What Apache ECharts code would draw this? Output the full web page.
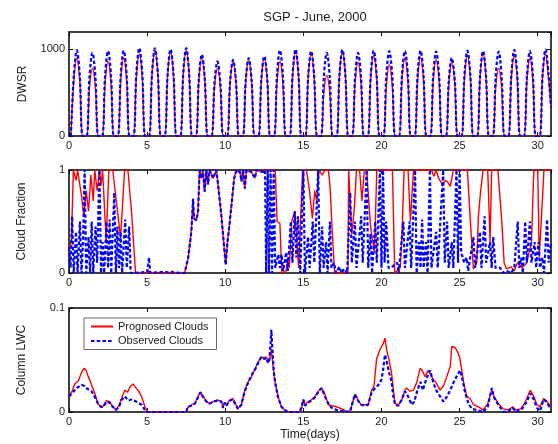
<!DOCTYPE html>
<html>
<head>
<meta charset="utf-8">
<script src="https://cdn.jsdelivr.net/npm/echarts@6/dist/echarts.min.js"></script>
<style>
  html, body { margin: 0; padding: 0; background: #fff; }
  #chart { width: 558px; height: 444px; }
</style>
</head>
<body>
<div id="chart"></div>
<script>
// time axis (days) and tick labels
var xMax = 30.85
var xTicks = [0, 5, 10, 15, 20, 25, 30]

// DWSR: sample times (days), observed and prognosed values (W/m2)
var dwsrT = [
  0.12, 0.31, 0.5, 0.69, 0.88, 1.12, 1.31, 1.5, 1.69, 1.88,
  2.12, 2.31, 2.5, 2.69, 2.88, 3.12, 3.31, 3.5, 3.69, 3.88,
  4.12, 4.31, 4.5, 4.69, 4.88, 5.12, 5.31, 5.5, 5.69, 5.88,
  6.12, 6.31, 6.5, 6.69, 6.88, 7.12, 7.31, 7.5, 7.69, 7.88,
  8.12, 8.31, 8.5, 8.69, 8.88, 9.12, 9.31, 9.5, 9.69, 9.88,
  10.12, 10.31, 10.5, 10.69, 10.88, 11.12, 11.31, 11.5, 11.69, 11.88,
  12.12, 12.31, 12.5, 12.69, 12.88, 13.12, 13.31, 13.5, 13.69, 13.88,
  14.12, 14.31, 14.5, 14.69, 14.88, 15.12, 15.31, 15.5, 15.69, 15.88,
  16.12, 16.31, 16.5, 16.69, 16.88, 17.12, 17.31, 17.5, 17.69, 17.88,
  18.12, 18.31, 18.5, 18.69, 18.88, 19.12, 19.31, 19.5, 19.69, 19.88,
  20.12, 20.31, 20.5, 20.69, 20.88, 21.12, 21.31, 21.5, 21.69, 21.88,
  22.12, 22.31, 22.5, 22.69, 22.88, 23.12, 23.31, 23.5, 23.69, 23.88,
  24.12, 24.31, 24.5, 24.69, 24.88, 25.12, 25.31, 25.5, 25.69, 25.88,
  26.12, 26.31, 26.5, 26.69, 26.88, 27.12, 27.31, 27.5, 27.69, 27.88,
  28.12, 28.31, 28.5, 28.69, 28.88, 29.12, 29.31, 29.5, 29.69, 29.88,
  30.12, 30.31, 30.5, 30.69, 30.85
]
var dwsrObs = [
  0, 700, 990, 700, 0, 0, 680, 960, 680, 0,
  0, 695, 980, 695, 0, 0, 700, 985, 700, 0,
  0, 720, 1015, 720, 0, 0, 715, 1010, 715, 0,
  0, 710, 1000, 710, 0, 0, 720, 1015, 720, 0,
  0, 665, 940, 665, 0, 0, 610, 860, 610, 0,
  0, 625, 880, 625, 0, 0, 640, 900, 640, 0,
  0, 655, 920, 655, 0, 0, 700, 990, 700, 0,
  0, 710, 1000, 710, 0, 0, 695, 980, 695, 0,
  0, 680, 960, 680, 0, 0, 705, 995, 705, 0,
  0, 680, 960, 680, 0, 0, 700, 985, 700, 0,
  0, 695, 980, 695, 0, 0, 695, 980, 695, 0,
  0, 700, 985, 700, 0, 0, 690, 975, 690, 0,
  0, 640, 900, 640, 0, 0, 700, 985, 700, 0,
  0, 695, 980, 695, 0, 0, 690, 975, 690, 0,
  0, 705, 995, 705, 0, 0, 695, 980, 695, 0,
  0, 710, 1000, 710, 330
]
var dwsrProg = [
  0, 640, 900, 640, 0, 0, 555, 780, 555, 0,
  0, 610, 860, 610, 0, 0, 640, 900, 640, 0,
  0, 675, 950, 675, 0, 0, 700, 990, 700, 0,
  0, 690, 970, 690, 0, 0, 700, 990, 700, 0,
  0, 640, 900, 640, 0, 0, 555, 780, 555, 0,
  0, 610, 860, 610, 0, 0, 625, 880, 625, 0,
  0, 640, 900, 640, 0, 0, 610, 860, 610, 0,
  0, 680, 960, 680, 0, 0, 675, 950, 675, 0,
  0, 500, 700, 500, 0, 0, 695, 980, 695, 0,
  0, 605, 850, 605, 0, 0, 660, 930, 660, 0,
  0, 580, 820, 580, 0, 0, 640, 900, 640, 0,
  0, 645, 910, 645, 0, 0, 625, 880, 625, 0,
  0, 610, 860, 610, 0, 0, 660, 930, 660, 0,
  0, 675, 950, 675, 0, 0, 555, 780, 555, 0,
  0, 655, 920, 655, 0, 0, 640, 900, 640, 0,
  0, 675, 950, 675, 330
]

// Cloud fraction: [day, fraction]
var cfProg = [
  [0, 0.25], [0.15, 0.3], [0.28, 1], [0.45, 0.9], [0.55, 1], [0.65, 1], [0.8, 0.75],
  [0.95, 0.55], [1.1, 0.8], [1.25, 0.6], [1.4, 0.95], [1.55, 0.7], [1.65, 1], [1.8, 0.8],
  [1.95, 1], [2.05, 0.85], [2.15, 1], [2.38, 0.3], [2.55, 1], [2.8, 1], [3.3, 0.34],
  [3.56, 1], [3.77, 1], [4.0, 0.6], [4.26, 0], [5.0, 0], [5.1, 0.02], [5.3, 0],
  [6.5, 0], [6.6, 0.02], [6.7, 0], [7.4, 0], [7.62, 0.14], [7.83, 0.4], [7.94, 0.72],
  [8.0, 0.53], [8.15, 0.51], [8.26, 0.6], [8.36, 1], [8.47, 0.92], [8.57, 1], [8.68, 0.79],
  [8.79, 1], [8.9, 0.86], [9.0, 1], [9.22, 0.92], [9.43, 1], [9.54, 0.86], [9.75, 0.56],
  [9.86, 0.37], [9.97, 0.18], [10.03, 0.08], [10.14, 0.3], [10.22, 0.4], [10.4, 0.66],
  [10.57, 0.92], [10.72, 1], [10.94, 0.98], [11.04, 0.89], [11.15, 1], [11.25, 0.82],
  [11.36, 1], [11.68, 0.98], [11.9, 0.92], [12.0, 1], [12.4, 0.98], [12.5, 1], [13.2, 1],
  [13.32, 0.5], [13.5, 0.48], [13.62, 0], [13.9, 0.02], [14.0, 0.15], [14.1, 0.05],
  [14.25, 0.5], [14.45, 0.6], [14.7, 0.05], [14.95, 1], [15.2, 1], [15.4, 0.79],
  [15.5, 0.64], [15.58, 0.53], [15.73, 0.8], [15.85, 0.7], [16.0, 1], [16.2, 0.95],
  [16.4, 1], [16.6, 1], [16.7, 0.86], [16.85, 0.4], [17.0, 0], [17.85, 0], [17.9, 1],
  [18.0, 1], [18.1, 0.38], [18.25, 0.6], [18.4, 1], [18.6, 1], [18.75, 0.7], [18.9, 1],
  [19.05, 1], [19.3, 0.45], [19.55, 0.2], [19.7, 1], [20.7, 1], [20.85, 0], [21.2, 0.05],
  [21.3, 0.34], [21.45, 1], [21.7, 1], [21.85, 0.5], [22.05, 1], [23.2, 1], [23.35, 0.94],
  [23.5, 1], [23.65, 0.92], [23.9, 0.86], [24.1, 0.9], [24.25, 0.88], [24.4, 0.84],
  [24.6, 1], [25.5, 1], [25.65, 0.6], [25.88, 0.04], [26.1, 0.1], [26.2, 0.55],
  [26.35, 0.8], [26.5, 1], [26.8, 1], [26.95, 0.3], [27.05, 1], [27.45, 1], [27.7, 0.5],
  [27.85, 0.1], [28.0, 0.04], [28.3, 0.06], [28.5, 0.02], [28.7, 0.1], [29.0, 0.05],
  [29.3, 0.1], [29.6, 0.3], [29.75, 1], [30.0, 1], [30.1, 0.15], [30.4, 1], [30.85, 1]
]
var cfObs = [
  [0, 0.25], [0.1, 0.05], [0.2, 0.55], [0.3, 0], [0.45, 0.4], [0.55, 0], [0.7, 0.5],
  [0.8, 0], [0.9, 0.3], [1.0, 1], [1.1, 0], [1.25, 0.35], [1.35, 0], [1.45, 0.5],
  [1.55, 0], [1.7, 0.45], [1.8, 0.1], [1.95, 1], [2.05, 0], [2.15, 0.3], [2.25, 0],
  [2.4, 0.5], [2.5, 0.05], [2.6, 0.52], [2.7, 0], [2.9, 0.78], [3.0, 0], [3.1, 0.45],
  [3.2, 0.05], [3.3, 0.4], [3.4, 0], [3.6, 0.52], [3.7, 0.05], [3.85, 0.45], [3.95, 0],
  [4.2, 0], [5.0, 0.01], [5.12, 0.15], [5.2, 0], [6.0, 0.01], [7.4, 0], [7.62, 0.14],
  [7.83, 0.4], [7.94, 0.72], [8.0, 0.53], [8.15, 0.51], [8.26, 0.6], [8.36, 1], [8.47, 0.92],
  [8.57, 1], [8.68, 0.79], [8.79, 1], [8.9, 0.86], [9.0, 1], [9.22, 0.92], [9.43, 1],
  [9.54, 0.86], [9.75, 0.56], [9.86, 0.37], [9.97, 0.18], [10.03, 0.08], [10.14, 0.3],
  [10.22, 0.4], [10.4, 0.66], [10.57, 0.92], [10.72, 1], [10.94, 0.98], [11.04, 0.89],
  [11.15, 1], [11.25, 0.82], [11.36, 1], [11.68, 0.98], [11.9, 0.92], [12.0, 1], [12.4, 0.98],
  [12.55, 1], [12.62, 0], [12.72, 1], [12.8, 0], [12.9, 1], [13.0, 0], [13.1, 1], [13.2, 0.05],
  [13.4, 0.18], [13.5, 0.05], [13.6, 0.18], [13.7, 0.02], [13.9, 0.2], [14.0, 0.02],
  [14.2, 0.5], [14.3, 0.1], [14.45, 0.6], [14.55, 0.15], [14.65, 0.55], [14.8, 0],
  [15.0, 1], [15.1, 0], [15.3, 0.35], [15.4, 0.05], [15.6, 0.5], [15.7, 0.1], [15.95, 1],
  [16.05, 0], [16.2, 0.45], [16.3, 0.05], [16.45, 0.3], [16.55, 0], [16.7, 0.5],
  [16.8, 0.05], [16.95, 0.1], [17.1, 0], [17.3, 0.06], [17.45, 0], [17.6, 0.04], [17.8, 0],
  [18.0, 0.78], [18.1, 0.1], [18.3, 0.5], [18.4, 0.05], [18.7, 0.55], [18.8, 0.1],
  [19.05, 1], [19.15, 0.05], [19.3, 0.38], [19.4, 0], [19.6, 0.5], [19.7, 0.1], [19.9, 1],
  [20.0, 0.05], [20.1, 1], [20.2, 0.1], [20.3, 0.5], [20.45, 0.05], [20.6, 0.05],
  [21.0, 0.1], [21.1, 0], [21.4, 0.5], [21.5, 0.05], [21.8, 0.5], [21.9, 0.05], [22.15, 1],
  [22.25, 0], [22.4, 0.3], [22.5, 0.05], [22.6, 0.52], [22.7, 0.05], [22.85, 0.3],
  [22.95, 0], [23.1, 1], [23.2, 0.05], [23.5, 0.4], [23.6, 0.05], [23.95, 1], [24.05, 0.1],
  [24.2, 0.5], [24.3, 0.05], [24.5, 0.3], [24.6, 0.05], [24.8, 1], [24.9, 0.1], [25.0, 1],
  [25.1, 0.2], [25.3, 0.1], [25.45, 0.15], [25.55, 0.02], [25.88, 0.35], [26.0, 0.05],
  [26.3, 0.4], [26.4, 0.05], [26.6, 0.55], [26.7, 0.1], [26.95, 0.3], [27.05, 0.05],
  [27.15, 0.35], [27.3, 0.05], [27.6, 0.05], [27.8, 0], [28.0, 0.02], [28.3, 0],
  [28.5, 0.05], [28.72, 0.5], [28.82, 0.05], [28.95, 0.15], [29.05, 0], [29.2, 0.5],
  [29.3, 0.1], [29.5, 0.5], [29.6, 0.1], [29.8, 0.3], [29.9, 0.05], [30.05, 0.3],
  [30.15, 0.05], [30.3, 0.15], [30.4, 0], [30.6, 0.52], [30.7, 0.1], [30.85, 0.3]
]

// Column LWC: [day, value]
var lwcProg = [
  [0, 0.015], [0.2, 0.02], [0.37, 0.027], [0.6, 0.03], [0.8, 0.038], [0.97, 0.042],
  [1.1, 0.04], [1.23, 0.034], [1.35, 0.03], [1.44, 0.026], [1.55, 0.022], [1.65, 0.018],
  [1.86, 0.008], [2.05, 0.004], [2.2, 0.006], [2.4, 0.011], [2.6, 0.01], [2.8, 0.005],
  [3.0, 0.002], [3.2, 0.006], [3.36, 0.013], [3.57, 0.021], [3.75, 0.019], [3.9, 0.024],
  [4.1, 0.027], [4.3, 0.023], [4.5, 0.019], [4.64, 0.015], [4.86, 0.005], [5.03, 0],
  [7.5, 0], [7.62, 0.005], [7.83, 0.007], [8.05, 0.008], [8.26, 0.015], [8.41, 0.019],
  [8.6, 0.015], [8.8, 0.01], [9.0, 0.008], [9.22, 0.01], [9.54, 0.0115], [9.75, 0.01],
  [9.86, 0.005], [9.97, 0.009], [10.07, 0.007], [10.29, 0.0115], [10.5, 0.013],
  [10.65, 0.008], [10.82, 0.0035], [11.03, 0.007], [11.25, 0.021], [11.46, 0.029],
  [11.68, 0.034], [11.78, 0.037], [11.95, 0.043], [12.1, 0.048], [12.31, 0.053],
  [12.5, 0.052], [12.63, 0.053], [12.74, 0.048], [12.82, 0.05], [12.95, 0.06],
  [13.06, 0.044], [13.16, 0.031], [13.38, 0.015], [13.6, 0.005], [13.8, 0.002], [14.0, 0],
  [14.78, 0], [14.9, 0.004], [15.0, 0.0115], [15.1, 0.007], [15.31, 0.01], [15.5, 0.0115],
  [15.74, 0.015], [15.95, 0.02], [16.16, 0.023], [16.25, 0.021], [16.38, 0.017],
  [16.6, 0.007], [16.8, 0.006], [17.13, 0.005], [17.45, 0.003], [17.7, 0.001], [17.98, 0],
  [18.3, 0.017], [18.5, 0.0115], [18.7, 0.007], [18.95, 0.007], [19.15, 0.007],
  [19.37, 0.021], [19.52, 0.025], [19.69, 0.051], [19.9, 0.06], [20.12, 0.066],
  [20.22, 0.071], [20.33, 0.06], [20.5, 0.049], [20.65, 0.037], [20.76, 0.021],
  [20.87, 0.008], [21.08, 0.007], [21.3, 0.0115], [21.5, 0.021], [21.6, 0.023],
  [21.83, 0.02], [22.05, 0.021], [22.25, 0.028], [22.47, 0.042], [22.6, 0.04],
  [22.79, 0.034], [23.0, 0.04], [23.1, 0.039], [23.32, 0.031], [23.5, 0.028],
  [23.75, 0.021], [23.97, 0.025], [24.18, 0.034], [24.4, 0.044], [24.5, 0.063],
  [24.71, 0.062], [24.86, 0.058], [25.0, 0.053], [25.14, 0.04], [25.25, 0.029],
  [25.46, 0.015], [25.67, 0.013], [25.89, 0.007], [26.21, 0.005], [26.5, 0.002],
  [26.8, 0.008], [27.06, 0.021], [27.2, 0.015], [27.48, 0.008], [27.8, 0.003],
  [28.12, 0.002], [28.4, 0.005], [28.6, 0.002], [28.9, 0.003], [29.1, 0.007],
  [29.3, 0.013], [29.52, 0.021], [29.75, 0.015], [29.95, 0.007], [30.15, 0.005],
  [30.37, 0.013], [30.55, 0.011], [30.75, 0.007], [30.85, 0.006]
]
var lwcObs = [
  [0, 0.015], [0.2, 0.018], [0.48, 0.023], [0.8, 0.026], [1.0, 0.025], [1.12, 0.023],
  [1.3, 0.021], [1.44, 0.02], [1.6, 0.016], [1.86, 0.008], [2.05, 0.005], [2.2, 0.005],
  [2.4, 0.01], [2.6, 0.009], [2.8, 0.005], [3.0, 0.002], [3.2, 0.005], [3.36, 0.0115],
  [3.57, 0.015], [3.8, 0.011], [4.0, 0.012], [4.3, 0.01], [4.64, 0.007], [4.86, 0.002],
  [5.03, 0], [6.35, 0], [6.45, 0.001], [7.5, 0], [7.62, 0.005], [7.83, 0.006],
  [8.05, 0.008], [8.26, 0.014], [8.41, 0.019], [8.6, 0.014], [8.8, 0.01], [9.0, 0.008],
  [9.22, 0.01], [9.54, 0.011], [9.75, 0.01], [9.86, 0.004], [9.97, 0.009], [10.07, 0.006],
  [10.29, 0.011], [10.5, 0.012], [10.65, 0.007], [10.82, 0.003], [11.03, 0.007],
  [11.25, 0.02], [11.46, 0.028], [11.68, 0.035], [11.78, 0.038], [11.95, 0.042],
  [12.1, 0.047], [12.31, 0.053], [12.5, 0.051], [12.63, 0.052], [12.74, 0.047],
  [12.82, 0.05], [12.9, 0.065], [12.95, 0.079], [13.02, 0.06], [13.1, 0.04], [13.2, 0.028],
  [13.38, 0.014], [13.6, 0.005], [13.8, 0.002], [14.0, 0], [14.78, 0], [14.9, 0.006],
  [15.0, 0.012], [15.1, 0.006], [15.31, 0.009], [15.5, 0.011], [15.74, 0.014],
  [15.95, 0.019], [16.16, 0.023], [16.25, 0.02], [16.38, 0.015], [16.6, 0.008],
  [16.8, 0.004], [17.13, 0.002], [17.45, 0.001], [17.98, 0], [18.3, 0.017], [18.5, 0.011],
  [18.7, 0.007], [18.95, 0.006], [19.15, 0.007], [19.37, 0.019], [19.6, 0.023],
  [19.8, 0.026], [20.0, 0.031], [20.1, 0.04], [20.22, 0.055], [20.33, 0.049],
  [20.5, 0.037], [20.65, 0.029], [20.76, 0.015], [20.87, 0.007], [21.08, 0.006],
  [21.3, 0.012], [21.5, 0.02], [21.7, 0.015], [21.93, 0.007], [22.1, 0.01], [22.3, 0.021],
  [22.5, 0.029], [22.65, 0.021], [22.85, 0.031], [23.11, 0.04], [23.32, 0.028],
  [23.5, 0.021], [23.75, 0.015], [23.97, 0.01], [24.2, 0.015], [24.4, 0.021],
  [24.6, 0.028], [24.8, 0.034], [25.03, 0.04], [25.14, 0.034], [25.35, 0.019],
  [25.57, 0.008], [25.78, 0.003], [26.1, 0.002], [26.5, 0], [26.8, 0.005], [27.06, 0.023],
  [27.2, 0.014], [27.48, 0.007], [27.8, 0], [28.12, 0.001], [28.4, 0.004], [28.6, 0],
  [29.0, 0.003], [29.3, 0.01], [29.52, 0.018], [29.75, 0.012], [29.95, 0.004],
  [30.15, 0.001], [30.37, 0.012], [30.55, 0.01], [30.75, 0.005], [30.85, 0.005]
]

var panelNames = ['DWSR', 'Cloud Fraction', 'Column LWC']
var panelMax = [1200, 1, 0.1]
var panelInterval = [1000, 1, 0.1]
var legendNames = ['Prognosed Clouds', 'Observed Clouds']

var FONT = 'Liberation Sans, Arial, Helvetica, sans-serif'
var RED = '#ff0000'
var BLUE = '#0000ff'

var chart = echarts.init(document.getElementById('chart'))

var grids = [
  { left: 69, right: 7, top: 32, height: 104 },
  { left: 69, right: 7, top: 170, height: 103 },
  { left: 69, right: 7, top: 308, height: 104 }
]

var xAxes = []
var yAxes = []
grids.forEach(function(g, i) {
  var line = { onZero: false, lineStyle: { color: '#000', width: 1.5 } }
  var tick = { inside: true, length: 4, lineStyle: { color: '#000', width: 1 } }
  xAxes.push({
    gridIndex: i, type: 'value', position: 'bottom', min: 0, max: xMax, interval: 5,
    axisLine: line, axisTick: tick, splitLine: { show: false },
    axisLabel: {
      showMaxLabel: false, margin: 4, fontSize: 11, color: '#222', fontFamily: FONT,
      formatter: function(v) { return xTicks.indexOf(v) >= 0 ? String(v) : '' }
    },
    name: i === 2 ? 'Time(days)' : '',
    nameLocation: 'middle', nameGap: 17,
    nameTextStyle: { fontSize: 12, color: '#222', fontFamily: FONT }
  })
  xAxes.push({
    gridIndex: i, type: 'value', position: 'top', min: 0, max: xMax, interval: 5,
    axisLine: line, axisTick: tick, axisLabel: { show: false }, splitLine: { show: false }
  })
  yAxes.push({
    gridIndex: i, type: 'value', position: 'left', min: 0, max: panelMax[i],
    interval: panelInterval[i],
    axisLine: line, axisTick: tick, splitLine: { show: false },
    axisLabel: {
      showMaxLabel: i !== 0, margin: 4, fontSize: 11, color: '#222', fontFamily: FONT,
      formatter: function(v) { return String(v) }
    },
    name: panelNames[i], nameLocation: 'middle', nameGap: i === 0 ? 40 : 41,
    nameTextStyle: { fontSize: 12, color: '#222', fontFamily: FONT }
  })
  yAxes.push({
    gridIndex: i, type: 'value', position: 'right', min: 0, max: panelMax[i],
    interval: panelInterval[i],
    axisLine: line, axisTick: tick, axisLabel: { show: false }, splitLine: { show: false }
  })
})

function redLine(name, i, data) {
  return {
    name: name, type: 'line', xAxisIndex: 2 * i, yAxisIndex: 2 * i, data: data,
    symbol: 'none', showSymbol: false, smooth: i === 0 ? 0.35 : false,
    color: RED, lineStyle: { color: RED, width: 1.4 }, z: 3
  }
}
function blueLine(name, i, data) {
  return {
    name: name, type: 'line', xAxisIndex: 2 * i, yAxisIndex: 2 * i, data: data,
    symbol: 'none', showSymbol: false, smooth: i === 0 ? 0.35 : false,
    color: BLUE, lineStyle: { color: BLUE, width: 2.2, type: [3.5, 2.2] }, z: 4
  }
}

var option = {
  animation: false,
  backgroundColor: '#fff',
  title: {
    text: 'SGP - June, 2000', left: 310, top: 6, textAlign: 'center',
    textStyle: { fontSize: 13, fontWeight: 'normal', color: '#222', fontFamily: FONT }
  },
  legend: {
    data: legendNames, orient: 'vertical', left: 84, top: 318,
    padding: [3, 8, 3, 6], itemGap: 3.5, itemWidth: 22, itemHeight: 10,
    itemStyle: { opacity: 0 },
    backgroundColor: '#fff', borderColor: '#666', borderWidth: 1, selectedMode: false,
    textStyle: { fontSize: 11, color: '#222', fontFamily: FONT }
  },
  grid: grids,
  xAxis: xAxes,
  yAxis: yAxes,
  series: [
    redLine('DWSR prognosed', 0, dwsrT.map(function(t, k) { return [t, dwsrProg[k]] })),
    blueLine('DWSR observed', 0, dwsrT.map(function(t, k) { return [t, dwsrObs[k]] })),
    redLine('CF prognosed', 1, cfProg),
    blueLine('CF observed', 1, cfObs),
    redLine(legendNames[0], 2, lwcProg),
    blueLine(legendNames[1], 2, lwcObs)
  ]
}

chart.setOption(option)
</script>
</body>
</html>
